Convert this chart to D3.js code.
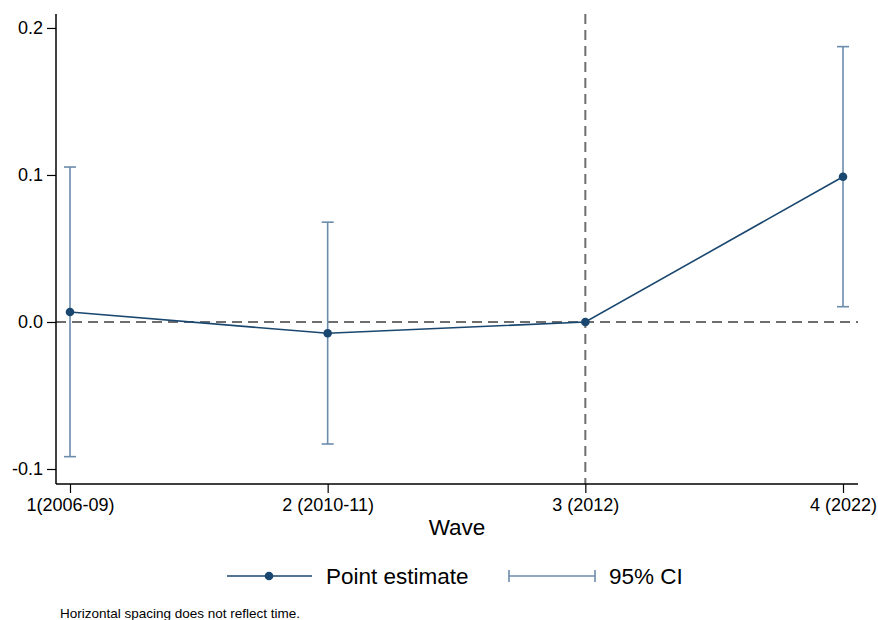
<!DOCTYPE html>
<html>
<head>
<meta charset="utf-8">
<script src="https://cdn.jsdelivr.net/npm/d3@7"></script>
<style>
body { margin: 0; background: #fff; }
svg { font-family: "Liberation Sans", Arial, sans-serif; display: block; }
</style>
</head>
<body>
<div id="vis"></div>
<script>
// data
var waves = ["1(2006-09)", "2 (2010-11)", "3 (2012)", "4 (2022)"];
var estimate = [0.0068, -0.0077, 0, 0.0988];
var ciLow = [-0.0916, -0.0830, null, 0.0104];
var ciHigh = [0.1054, 0.0679, null, 0.1873];
var yTicks = [-0.1, 0.0, 0.1, 0.2];

var w = 878, h = 620;
var plotL = 56, plotR = 858, plotT = 14, plotB = 484;

var svg = d3.select("#vis").append("svg")
  .attr("width", w).attr("height", h)
  .style("background-color", "#fff");

var x = d3.scalePoint().domain(waves).range([70, 843]);
var y = d3.scaleLinear().domain([-0.1102, 0.2095]).range([plotB, plotT]);

var lineCol = "#1a476f";
var ciCol = "#6b8cab";
var refCol = "#6e6e6e";

// reference lines
svg.append("line")
  .attr("x1", plotL).attr("x2", plotR)
  .attr("y1", y(0)).attr("y2", y(0))
  .attr("stroke", refCol).attr("stroke-width", 2)
  .attr("stroke-dasharray", "10,6");
svg.append("line")
  .attr("x1", x(waves[2])).attr("x2", x(waves[2]))
  .attr("y1", plotT).attr("y2", plotB)
  .attr("stroke", refCol).attr("stroke-width", 2)
  .attr("stroke-dasharray", "10,6");

// confidence intervals
var ci = waves.map(function(d, i) { return {w: d, lo: ciLow[i], hi: ciHigh[i]}; })
  .filter(function(d) { return d.lo !== null; });
var g = svg.append("g").attr("stroke", ciCol).attr("stroke-width", 1.6);
g.selectAll(".v").data(ci).enter().append("line")
  .attr("x1", d => x(d.w)).attr("x2", d => x(d.w))
  .attr("y1", d => y(d.lo)).attr("y2", d => y(d.hi));
g.selectAll(".t").data(ci).enter().append("line")
  .attr("x1", d => x(d.w) - 6).attr("x2", d => x(d.w) + 6)
  .attr("y1", d => y(d.hi)).attr("y2", d => y(d.hi));
g.selectAll(".b").data(ci).enter().append("line")
  .attr("x1", d => x(d.w) - 6).attr("x2", d => x(d.w) + 6)
  .attr("y1", d => y(d.lo)).attr("y2", d => y(d.lo));

// point estimates
var pts = waves.map(function(d, i) { return {w: d, v: estimate[i]}; });
svg.append("path").datum(pts)
  .attr("fill", "none").attr("stroke", lineCol).attr("stroke-width", 1.6)
  .attr("d", d3.line().x(d => x(d.w)).y(d => y(d.v)));
svg.selectAll(".pt").data(pts).enter().append("circle")
  .attr("cx", d => x(d.w)).attr("cy", d => y(d.v)).attr("r", 4.3)
  .attr("fill", lineCol);

// axes
var fmt = d3.format(".1f");
var yAxis = svg.append("g")
  .attr("transform", "translate(" + plotL + ",0)")
  .call(d3.axisLeft(y).tickValues(yTicks).tickFormat(d => fmt(d).replace("\u2212", "-")).tickSize(9).tickPadding(4));
yAxis.select(".domain").attr("d", "M0," + plotT + "V" + plotB).attr("stroke-width", 1.5);
yAxis.selectAll("text").style("font-size", "18px").attr("fill", "#000");
yAxis.selectAll(".tick line").attr("stroke-width", 1.2);

var xAxis = svg.append("g")
  .attr("transform", "translate(0," + plotB + ")")
  .call(d3.axisBottom(x).tickSize(9).tickPadding(5));
xAxis.select(".domain").attr("d", "M" + plotL + ",0H" + plotR).attr("stroke-width", 1.5);
xAxis.selectAll("text").style("font-size", "18px").attr("fill", "#000");
xAxis.selectAll(".tick line").attr("stroke-width", 1.2);

svg.append("text").attr("x", 457).attr("y", 535)
  .attr("text-anchor", "middle").style("font-size", "22.5px").text("Wave");

// legend
var ly = 576;
svg.append("line").attr("x1", 227).attr("x2", 312).attr("y1", ly).attr("y2", ly)
  .attr("stroke", lineCol).attr("stroke-width", 1.6);
svg.append("circle").attr("cx", 269).attr("cy", ly).attr("r", 4.3).attr("fill", lineCol);
svg.append("text").attr("x", 326).attr("y", ly + 8).style("font-size", "22.5px").text("Point estimate");

var lg = svg.append("g").attr("stroke", ciCol).attr("stroke-width", 1.6);
lg.append("line").attr("x1", 509).attr("x2", 595).attr("y1", ly).attr("y2", ly);
lg.append("line").attr("x1", 509).attr("x2", 509).attr("y1", ly - 6).attr("y2", ly + 6);
lg.append("line").attr("x1", 595).attr("x2", 595).attr("y1", ly - 6).attr("y2", ly + 6);
svg.append("text").attr("x", 609).attr("y", ly + 8).style("font-size", "22.5px").text("95% CI");

svg.append("text").attr("x", 60).attr("y", 618)
  .style("font-size", "13.5px").text("Horizontal spacing does not reflect time.");
</script>
</body>
</html>
